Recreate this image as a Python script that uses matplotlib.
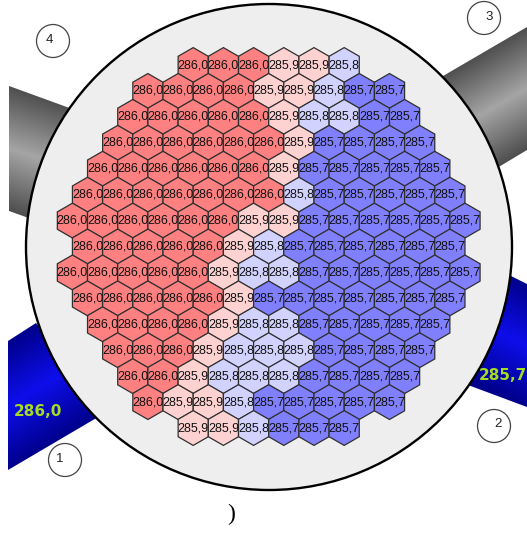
import matplotlib
matplotlib.use("Agg")

import numpy as np
import matplotlib.pyplot as plt
from matplotlib.patches import Circle, Polygon, RegularPolygon

# -------------------------------------------------
# DATA (coolant temperature per assembly, row by row)
# -------------------------------------------------
row_01 = [286.0]*3 + [285.9]*2 + [285.8]
row_02 = [286.0]*4 + [285.9]*2 + [285.8] + [285.7]*2
row_03 = [286.0]*5 + [285.9] + [285.8]*2 + [285.7]*2
row_04 = [286.0]*6 + [285.9] + [285.7]*4
row_05 = [286.0]*6 + [285.9] + [285.7]*5
row_06 = [286.0]*7 + [285.8] + [285.7]*5
row_07 = [286.0]*6 + [285.9]*2 + [285.7]*6
row_08 = [286.0]*5 + [285.9] + [285.8] + [285.7]*6
row_09 = [286.0]*5 + [285.9] + [285.8]*2 + [285.7]*6
row_10 = [286.0]*5 + [285.9] + [285.7]*7
row_11 = [286.0]*4 + [285.9] + [285.8]*2 + [285.7]*5
row_12 = [286.0]*3 + [285.9] + [285.8]*3 + [285.7]*4
row_13 = [286.0]*2 + [285.9] + [285.8]*3 + [285.7]*4
row_14 = [286.0] + [285.9]*2 + [285.8] + [285.7]*5
row_15 = [285.9]*2 + [285.8] + [285.7]*3

rows = [row_01, row_02, row_03, row_04, row_05, row_06, row_07, row_08,
        row_09, row_10, row_11, row_12, row_13, row_14, row_15]

loop_numbers = ["1", "2", "3", "4"]
loop_temps = ["286,0", "285,7"]

# -------------------------------------------------
# STYLE
# -------------------------------------------------
W, H = 527, 539
CELL_COLORS = {286.0: "#ff8080", 285.9: "#ffd2d2", 285.8: "#d2d2ff", 285.7: "#8080ff"}
TEXT_FONT = "Liberation Sans"


def comma(value):
    return f"{value:.1f}".replace(".", ",")


def draw_pipe(ax, corners, a, b, direction, edge, mid):
    # colour runs across the pipe: edge -> mid -> edge
    normal = np.array([-direction[1], direction[0]], dtype=float)
    xx, yy = np.meshgrid(np.arange(W) + 0.5, np.arange(H) + 0.5)
    a = np.array(a, dtype=float)
    span = np.dot(np.array(b) - a, normal)
    t = ((xx - a[0])*normal[0] + (yy - a[1])*normal[1]) / span
    k = np.clip(1 - np.abs(2*t - 1), 0, 1)[..., None]
    img = np.array(edge)*(1 - k) + np.array(mid)*k
    im = ax.imshow(img/255, extent=(0, W, H, 0), zorder=1, interpolation="bilinear")
    patch = Polygon(corners, closed=True, transform=ax.transData, facecolor="none", edgecolor="none")
    ax.add_patch(patch)
    im.set_clip_path(patch)


fig = plt.figure(figsize=(W/100, H/100), dpi=100)
ax = fig.add_axes([0, 0, 1, 1])

# pipes behind the vessel
gray_edge, gray_mid = (78, 78, 78), (165, 165, 165)
blue_edge, blue_mid = (0, 0, 140), (14, 14, 235)
draw_pipe(ax, [(9, 86), (75, 110), (40, 222), (9, 211)], (9, 86), (9, 211), (1, 0.32), gray_edge, gray_mid)
draw_pipe(ax, [(443, 76), (527, 27), (527, 150), (497, 168), (470, 120)], (527, 27), (527, 150), (1, -0.57), gray_edge, gray_mid)
draw_pipe(ax, [(8, 341), (36, 323), (110, 410), (8, 470)], (8, 341), (8, 470), (1, -0.6), blue_edge, blue_mid)
draw_pipe(ax, [(509, 275), (527, 284), (527, 407), (468, 385), (490, 330)], (527, 284), (527, 407), (1, 0.45), blue_edge, blue_mid)

# vessel
ax.add_patch(Circle((269, 247), 243, facecolor="#eeeeee", edgecolor="black", linewidth=1.7, zorder=2))

# assemblies
pitch_x = 30.2
pitch_y = 25.93
radius = 17.4
for r, values in enumerate(rows):
    y = 65 + r*pitch_y
    for c, value in enumerate(values):
        x = 268.7 + (c - (len(values) - 1)/2)*pitch_x
        ax.add_patch(RegularPolygon((x, y), 6, radius=radius, orientation=0,
                                    facecolor=CELL_COLORS[value], edgecolor="#303030",
                                    linewidth=0.9, zorder=3))
        ax.text(x, y, comma(value), ha="center", va="center", fontsize=9,
                family=TEXT_FONT, color="#111111", zorder=4)

# loop markers
marker_xy = [(65, 460), (494, 426), (484, 18), (53, 41)]
label_xy = [(60, 459), (498, 424), (489, 17), (49, 40)]
for num, m, l in zip(loop_numbers, marker_xy, label_xy):
    ax.add_patch(Circle(m, 16.5, facecolor="white", edgecolor="#444444", linewidth=0.9, zorder=5))
    ax.text(l[0], l[1], num, ha="center", va="center", fontsize=9.5, family=TEXT_FONT, color="#222222", zorder=6)

# loop temperatures
ax.text(38, 411, loop_temps[0], ha="center", va="center", fontsize=11, fontweight="bold",
        family="DejaVu Sans", color="#a6dc20", zorder=6)
ax.text(503, 375, loop_temps[1], ha="center", va="center", fontsize=11, fontweight="bold",
        family="DejaVu Sans", color="#a6dc20", zorder=6)

ax.text(231, 514, ")", ha="center", va="center", fontsize=17, family="Liberation Serif", color="black")

ax.set_xlim(0, W)
ax.set_ylim(H, 0)
ax.axis("off")

plt.savefig("out.png", dpi=100)
plt.close()
